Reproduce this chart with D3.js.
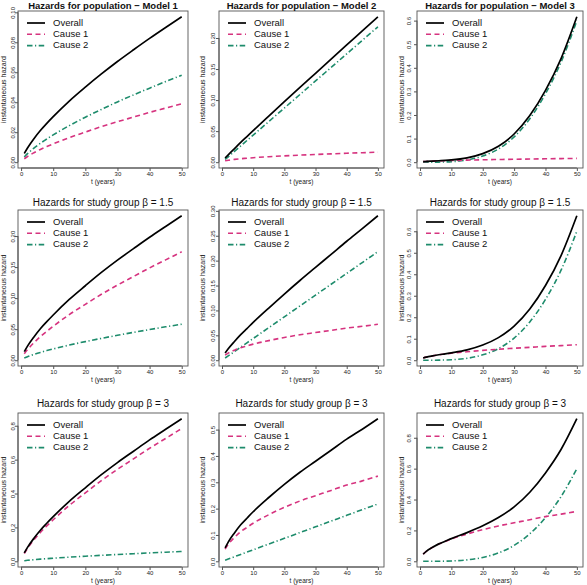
<!DOCTYPE html>
<html><head><meta charset="utf-8">
<script src="https://cdn.jsdelivr.net/npm/d3@7"></script>
<style>body{margin:0;background:#fff}svg{display:block}text{font-family:"Liberation Sans",Arial,Helvetica,sans-serif}</style>
</head><body><svg id="c" width="587" height="585"></svg>
<script>
// ---- data ----
const tYears = [1, 2, 4, 6, 8, 10, 15, 20, 25, 30, 35, 40, 45, 50];
const xTicks = [0, 10, 20, 30, 40, 50];
const seriesNames = ["Overall", "Cause 1", "Cause 2"];
const titles = [
  "Hazards for population \u2212 Model 1", "Hazards for population \u2212 Model 2", "Hazards for population \u2212 Model 3",
  "Hazards for study group  \u03b2 = 1.5", "Hazards for study group  \u03b2 = 1.5", "Hazards for study group  \u03b2 = 1.5",
  "Hazards for study group  \u03b2 = 3", "Hazards for study group  \u03b2 = 3", "Hazards for study group  \u03b2 = 3"
];

// Population, Model 1
const popM1Overall = [0.0058, 0.0095, 0.0157, 0.0211, 0.0259, 0.0304, 0.0408, 0.0501, 0.0589, 0.0672, 0.0750, 0.0826, 0.0899, 0.0970];
const popM1Cause1  = [0.0023, 0.0038, 0.0063, 0.0085, 0.0104, 0.0122, 0.0164, 0.0201, 0.0237, 0.0270, 0.0301, 0.0332, 0.0361, 0.0390];
const popM1Cause2  = [0.0035, 0.0057, 0.0094, 0.0126, 0.0155, 0.0182, 0.0244, 0.0300, 0.0352, 0.0402, 0.0449, 0.0494, 0.0538, 0.0580];
// Population, Model 2
const popM2Overall = [0.0067, 0.0119, 0.0219, 0.0318, 0.0413, 0.0508, 0.0742, 0.0974, 0.1204, 0.1432, 0.1660, 0.1888, 0.2114, 0.2341];
const popM2Cause1  = [0.0023, 0.0032, 0.0045, 0.0056, 0.0064, 0.0072, 0.0088, 0.0102, 0.0114, 0.0124, 0.0134, 0.0144, 0.0152, 0.0161];
const popM2Cause2  = [0.0044, 0.0087, 0.0174, 0.0262, 0.0349, 0.0436, 0.0654, 0.0872, 0.1090, 0.1308, 0.1526, 0.1744, 0.1962, 0.2180];
// Population, Model 3
const popM3Overall = [0.0023, 0.0032, 0.0046, 0.0060, 0.0074, 0.0094, 0.0183, 0.0362, 0.0674, 0.1194, 0.1974, 0.3044, 0.4402, 0.6161];
const popM3Cause1  = [0.0023, 0.0032, 0.0045, 0.0056, 0.0064, 0.0072, 0.0088, 0.0102, 0.0114, 0.0124, 0.0134, 0.0144, 0.0152, 0.0161];
const popM3Cause2  = [0.0000, 0.00001, 0.0001, 0.0004, 0.0010, 0.0022, 0.0095, 0.0260, 0.0560, 0.1070, 0.1840, 0.2900, 0.4250, 0.6000];
// Study group beta = 1.5
const b15M1Overall = [0.0138, 0.0227, 0.0376, 0.0507, 0.0621, 0.0729, 0.0979, 0.1200, 0.1414, 0.1612, 0.1798, 0.1981, 0.2155, 0.2327];
const b15M1Cause1  = [0.0103, 0.0170, 0.0282, 0.0381, 0.0466, 0.0547, 0.0735, 0.0900, 0.1062, 0.1210, 0.1349, 0.1487, 0.1617, 0.1747];
const b15M1Cause2  = [0.0035, 0.0057, 0.0094, 0.0126, 0.0155, 0.0182, 0.0244, 0.0300, 0.0352, 0.0402, 0.0449, 0.0494, 0.0538, 0.0580];
const b15M2Overall = [0.0147, 0.0230, 0.0376, 0.0513, 0.0636, 0.0759, 0.1048, 0.1329, 0.1601, 0.1864, 0.2126, 0.2389, 0.2643, 0.2901];
const b15M2Cause1  = [0.0103, 0.0143, 0.0202, 0.0251, 0.0287, 0.0323, 0.0394, 0.0457, 0.0511, 0.0556, 0.0600, 0.0645, 0.0681, 0.0721];
const b15M2Cause2  = [0.0044, 0.0087, 0.0174, 0.0262, 0.0349, 0.0436, 0.0654, 0.0872, 0.1090, 0.1308, 0.1526, 0.1744, 0.1962, 0.2180];
const b15M3Overall = [0.0103, 0.0143, 0.0203, 0.0255, 0.0297, 0.0345, 0.0484, 0.0707, 0.1051, 0.1586, 0.2380, 0.3475, 0.4881, 0.6721];
const b15M3Cause1  = [0.0103, 0.0143, 0.0202, 0.0251, 0.0287, 0.0323, 0.0394, 0.0457, 0.0511, 0.0556, 0.0600, 0.0645, 0.0681, 0.0721];
const b15M3Cause2  = [0.0000, 0.00001, 0.0001, 0.0004, 0.0010, 0.0022, 0.0090, 0.0250, 0.0540, 0.1030, 0.1780, 0.2830, 0.4200, 0.6000];
// Study group beta = 3
const b3M1Overall = [0.0497, 0.0820, 0.1360, 0.1834, 0.2244, 0.2633, 0.3539, 0.4338, 0.5113, 0.5826, 0.6496, 0.7164, 0.7790, 0.8415];
const b3M1Cause1  = [0.0462, 0.0763, 0.1266, 0.1708, 0.2089, 0.2451, 0.3295, 0.4038, 0.4761, 0.5424, 0.6047, 0.6670, 0.7252, 0.7835];
const b3M1Cause2  = [0.0035, 0.0057, 0.0094, 0.0126, 0.0155, 0.0182, 0.0244, 0.0300, 0.0352, 0.0402, 0.0449, 0.0494, 0.0538, 0.0580];
const b3M2Overall = [0.0506, 0.0730, 0.1078, 0.1387, 0.1635, 0.1882, 0.2422, 0.2921, 0.3380, 0.3799, 0.4218, 0.4637, 0.5016, 0.5414];
const b3M2Cause1  = [0.0462, 0.0643, 0.0904, 0.1125, 0.1286, 0.1446, 0.1768, 0.2049, 0.2290, 0.2491, 0.2692, 0.2893, 0.3054, 0.3234];
const b3M2Cause2  = [0.0044, 0.0087, 0.0174, 0.0262, 0.0349, 0.0436, 0.0654, 0.0872, 0.1090, 0.1308, 0.1526, 0.1744, 0.1962, 0.2180];
const b3M3Overall = [0.0462, 0.0643, 0.0905, 0.1129, 0.1296, 0.1468, 0.1858, 0.2299, 0.2830, 0.3521, 0.4472, 0.5723, 0.7254, 0.9234];
const b3M3Cause1  = [0.0462, 0.0643, 0.0904, 0.1125, 0.1286, 0.1446, 0.1768, 0.2049, 0.2290, 0.2491, 0.2692, 0.2893, 0.3054, 0.3234];
const b3M3Cause2  = [0.0000, 0.00001, 0.0001, 0.0004, 0.0010, 0.0022, 0.0090, 0.0250, 0.0540, 0.1030, 0.1780, 0.2830, 0.4200, 0.6000];

// y tick labels per panel
const yTicks1 = [0, 0.02, 0.04, 0.06, 0.08, 0.10];
const yTicks2 = [0, 0.05, 0.10, 0.15, 0.20];
const yTicks3 = [0, 0.1, 0.2, 0.3, 0.4, 0.5, 0.6];
const yTicks4 = [0, 0.05, 0.10, 0.15, 0.20];
const yTicks5 = [0, 0.05, 0.10, 0.15, 0.20, 0.25, 0.30];
const yTicks6 = [0, 0.1, 0.2, 0.3, 0.4, 0.5, 0.6];
const yTicks7 = [0, 0.2, 0.4, 0.6, 0.8];
const yTicks8 = [0, 0.1, 0.2, 0.3, 0.4, 0.5];
const yTicks9 = [0, 0.2, 0.4, 0.6, 0.8];
const yTickDigits = [2, 2, 1, 2, 2, 1, 1, 1, 1];

const panelSeries = [
  [popM1Overall, popM1Cause1, popM1Cause2], [popM2Overall, popM2Cause1, popM2Cause2], [popM3Overall, popM3Cause1, popM3Cause2],
  [b15M1Overall, b15M1Cause1, b15M1Cause2], [b15M2Overall, b15M2Cause1, b15M2Cause2], [b15M3Overall, b15M3Cause1, b15M3Cause2],
  [b3M1Overall, b3M1Cause1, b3M1Cause2], [b3M2Overall, b3M2Cause1, b3M2Cause2], [b3M3Overall, b3M3Cause1, b3M3Cause2]
];
const panelTicks = [yTicks1, yTicks2, yTicks3, yTicks4, yTicks5, yTicks6, yTicks7, yTicks8, yTicks9];

// ---- layout & style ----
const colBox = [[18, 188], [219, 384], [417, 583]];
const rowBox = [[11, 168], [210, 366], [413, 567]];
const titleBase = [8.5, 206, 407];
const yLabOff = [-3.5, -4, -6];
const yTitleOff = [-12.5, -14.5, -13.5];
const colors = ["#000000", "#D6337F", "#1E8C6C"];
const dashes = [null, "5,3.5", "5.5,2.5,1.2,2.5"];
const widths = [1.7, 1.6, 1.6];

const svg = d3.select("#c");
svg.append("rect").attr("width", 587).attr("height", 585).attr("fill", "#fff");

panelSeries.forEach((series, i) => {
  const r = Math.floor(i / 3), c = i % 3;
  const [x0, x1] = colBox[c], [y0, y1] = rowBox[r];
  const g = svg.append("g");
  const xr = d3.extent(tYears), xpad = (xr[1] - xr[0]) * 0.04;
  const x = d3.scaleLinear().domain([xr[0] - xpad, xr[1] + xpad]).range([x0, x1]);
  const ymax = d3.max(series[0].concat(series[1], series[2]));
  const ypad = ymax * 0.04;
  const y = d3.scaleLinear().domain([-ypad, ymax + ypad]).range([y1, y0]);

  // lines
  const line = d3.line().x((d, k) => x(tYears[k])).y(d => y(d)).curve(d3.curveMonotoneX);
  [2, 1, 0].forEach(s => {
    g.append("path").attr("d", line(series[s])).attr("fill", "none")
      .attr("stroke", colors[s]).attr("stroke-width", widths[s])
      .attr("stroke-dasharray", dashes[s]);
  });

  // box
  g.append("rect").attr("x", x0).attr("y", y0).attr("width", x1 - x0).attr("height", y1 - y0)
    .attr("fill", "none").attr("stroke", "#555").attr("stroke-width", 0.9);

  // x axis
  const xa = g.append("g").attr("transform", `translate(0,${y1})`)
    .call(d3.axisBottom(x).tickValues(xTicks).tickSize(3).tickFormat(d3.format("d")));
  xa.select(".domain").attr("stroke", "#555").attr("d", `M${x(xTicks[0])},0H${x(xTicks[xTicks.length-1])}`);
  xa.selectAll(".tick line").attr("stroke", "#555");
  xa.selectAll("text").attr("y", 6).attr("dy", null).attr("font-size", 6).attr("fill", "#222")
    .attr("dominant-baseline", "middle");

  // y axis
  const tk = panelTicks[i];
  const ya = g.append("g").attr("transform", `translate(${x0},0)`)
    .call(d3.axisLeft(y).tickValues(tk).tickSize(3).tickFormat(d3.format("." + yTickDigits[i] + "f")));
  ya.select(".domain").attr("stroke", "#555").attr("d", `M0,${y(tk[0])}V${y(tk[tk.length-1])}`);
  ya.selectAll(".tick line").attr("stroke", "#555");
  ya.selectAll("text").attr("x", null).attr("dy", null)
    .attr("transform", `translate(${yLabOff[c]},0) rotate(-90)`)
    .attr("text-anchor", "middle").attr("font-size", 6).attr("fill", "#222");

  // axis titles
  g.append("text").attr("x", (x0 + x1) / 2).attr("y", y1 + 14).attr("text-anchor", "middle")
    .attr("dominant-baseline", "middle").attr("font-size", 6.5).attr("fill", "#222").text("t (years)");
  g.append("text").attr("transform", `translate(${x0 + yTitleOff[c]},${(y0 + y1) / 2}) rotate(-90)`)
    .attr("text-anchor", "middle").attr("font-size", 7).attr("fill", "#222").text("instantaneous hazard");

  // title
  g.append("text").attr("x", (x0 + x1) / 2).attr("y", titleBase[r]).attr("text-anchor", "middle")
    .attr("font-size", r === 0 ? 9.5 : 10).attr("font-weight", r === 0 ? "bold" : "normal")
    .attr("fill", "#111").text(titles[i]);

  // legend
  const lg = g.append("g").attr("transform", `translate(${x0},${y0})`);
  seriesNames.forEach((name, s) => {
    const ly = 12 + s * 11.3;
    lg.append("line").attr("x1", 9).attr("x2", 27).attr("y1", ly).attr("y2", ly)
      .attr("stroke", colors[s]).attr("stroke-width", widths[s]).attr("stroke-dasharray", dashes[s]);
    lg.append("text").attr("x", 35).attr("y", ly).attr("dominant-baseline", "middle")
      .attr("font-size", 9.5).attr("fill", "#111").text(name);
  });
});
</script></body></html>
